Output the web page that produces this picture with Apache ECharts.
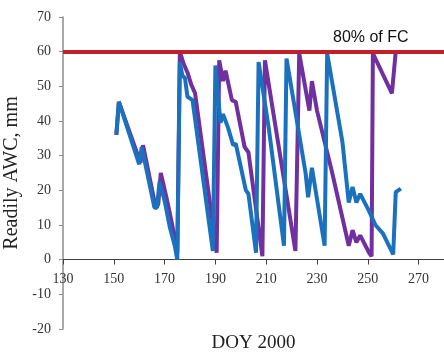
<!DOCTYPE html>
<html>
<head>
<meta charset="utf-8">
<script src="https://cdn.jsdelivr.net/npm/echarts@6/dist/echarts.min.js"></script>
<style>
  html, body { margin: 0; padding: 0; background: #fff; }
  #chart { width: 444px; height: 354px; }
</style>
</head>
<body>
<div id="chart"></div>
<script>
// day of year / readily available water content (mm)
const blueDoy = [151, 152, 160, 161, 166, 167, 168, 170, 172, 174, 175, 176, 177, 178, 179, 181, 189, 190, 192, 193, 195, 197, 198, 202, 203, 206, 207, 211, 217, 218, 225.5, 226.5, 228, 233, 234, 240, 242.5, 244, 245.5, 247, 250.5, 253, 256, 260, 261, 263];
const blueAwc = [36, 45.5, 27.5, 32.5, 15, 15, 22.5, 17, 9.5, 4, 0, 57, 53, 52.5, 47, 46, 2.5, 56, 39.5, 42, 38, 33, 33.5, 20, 19, 2, 57, 38, 4, 58, 25, 18, 26.5, 4, 59.5, 34, 16.5, 21, 16.5, 19, 14, 10, 7.5, 1.5, 19.5, 20.5];

const purpleDoy = [151, 152, 160.5, 161.5, 166.5, 167.5, 168.5, 171, 173, 175, 176, 177.5, 179, 180.5, 182, 190.5, 191.5, 193, 194, 196.5, 198, 201.5, 203, 208.5, 209.5, 221.5, 223, 227, 228, 230, 236, 242.5, 244, 245.5, 247, 250.5, 251.5, 252, 259.5, 261];
const purpleAwc = [36, 45.5, 28, 33, 15, 16, 25, 17, 10, 2, 60, 56.5, 54, 50.5, 48, 2, 57.5, 51.5, 54.5, 46, 45.5, 32.5, 31, 1, 57.5, 2.5, 59.5, 43, 51.5, 43, 25, 4, 8.5, 5, 7, 2, 1, 59.5, 48, 60];

const fcLevel = 60;
const fcLabel = "80% of FC";

const toPairs = (xs, ys) => xs.map((x, i) => [x, ys[i]]);

const chart = echarts.init(document.getElementById("chart"));
const serif = "'Liberation Serif', 'Times New Roman', serif";

chart.setOption({
  animation: false,
  grid: { left: 63, right: 0, top: 17, bottom: 25, containLabel: false, outerBoundsMode: "none" },
  xAxis: {
    type: "value",
    min: 130,
    max: 280,
    interval: 20,
    offset: -69.5,
    name: "DOY 2000",
    nameLocation: "middle",
    nameGap: 74,
    nameTextStyle: { fontFamily: serif, fontSize: 19, color: "#222" },
    axisLine: { onZero: false, lineStyle: { color: "#404040", width: 1 } },
    axisTick: { length: 5, lineStyle: { color: "#404040" } },
    axisLabel: { fontFamily: serif, fontSize: 14, color: "#333", margin: 13, showMaxLabel: false },
    splitLine: { show: false }
  },
  yAxis: {
    type: "value",
    min: -20,
    max: 70,
    interval: 10,
    name: "Readily AWC, mm",
    nameLocation: "middle",
    nameGap: 35,
    nameTextStyle: { fontFamily: serif, fontSize: 20, color: "#222" },
    axisLine: { show: true, lineStyle: { color: "#8c8c8c", width: 1.5 } },
    axisTick: { show: true, length: 4, lineStyle: { color: "#8c8c8c" } },
    axisLabel: { fontFamily: serif, fontSize: 14, color: "#333", margin: 12 },
    splitLine: { show: false }
  },
  graphic: [{
    type: "text",
    left: 333,
    top: 30,
    style: { text: fcLabel, font: "16px 'Liberation Sans', Arial, sans-serif", fill: "#111" }
  }],
  series: [
    {
      name: "purple",
      type: "line",
      data: toPairs(purpleDoy, purpleAwc),
      showSymbol: false,
      lineStyle: { color: "#7030a0", width: 4 },
      markLine: {
        silent: true,
        symbol: "none",
        label: { show: false },
        lineStyle: { color: "#c0202a", width: 4, type: "solid" },
        data: [{ yAxis: fcLevel }]
      }
    },
    {
      name: "blue",
      type: "line",
      data: toPairs(blueDoy, blueAwc),
      showSymbol: false,
      lineStyle: { color: "#1a72bf", width: 4 }
    }
  ]
});
</script>
</body>
</html>
